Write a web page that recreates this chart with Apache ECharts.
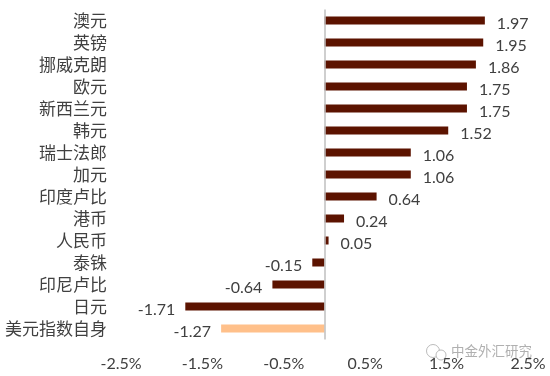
<!DOCTYPE html>
<html>
<head>
<meta charset="utf-8">
<script src="https://cdn.jsdelivr.net/npm/echarts@6/dist/echarts.min.js"></script>
<style>
  html, body { margin: 0; padding: 0; background: #fff; }
  #chart { width: 550px; height: 376px; }
</style>
</head>
<body>
<div id="chart"></div>
<script>
const currencies = ['澳元','英镑','挪威克朗','欧元','新西兰元','韩元','瑞士法郎','加元','印度卢比','港币','人民币','泰铢','印尼卢比','日元','美元指数自身']
const changes = [1.97,1.95,1.86,1.75,1.75,1.52,1.06,1.06,0.64,0.24,0.05,-0.15,-0.64,-1.71,-1.27]
const tickLabels = [-2.5,-1.5,-0.5,0.5,1.5,2.5]

const textColor = '#404040'
const barColor = '#5c1300'
const dollarColor = '#ffc08a'
const cjkFont = '"Noto Sans CJK SC", sans-serif'
const numFont = 'Lato, "Open Sans", sans-serif'

const barData = changes.map((v, i) => ({
  value: v,
  itemStyle: { color: currencies[i] === '美元指数自身' ? dollarColor : barColor },
  label: {
    position: v < 0 ? 'left' : 'right',
    offset: v < 0 ? [-5, 3] : [7, 3]
  }
}))

const chart = echarts.init(document.getElementById('chart'))
chart.setOption({
  animation: false,
  grid: { left: 121, width: 407, top: 9.5, height: 330 },
  xAxis: {
    type: 'value',
    min: -2.5,
    max: 2.5,
    interval: 0.5,
    axisLine: { show: false },
    axisTick: { show: false },
    splitLine: { show: false },
    axisLabel: {
      customValues: tickLabels,
      formatter: v => v.toFixed(1) + '%',
      color: textColor,
      fontFamily: numFont,
      fontSize: 16,
      margin: 16,
      hideOverlap: false
    }
  },
  yAxis: {
    type: 'category',
    inverse: true,
    data: currencies,
    axisLine: { show: false },
    axisTick: { show: false },
    axisLabel: {
      color: textColor,
      fontFamily: cjkFont,
      fontSize: 17,
      margin: 14,
      interval: 0
    }
  },
  graphic: [
    {
      type: 'text',
      left: 451,
      top: 344,
      z: 10,
      style: {
        text: '中金外汇研究',
        fill: 'rgba(150,150,150,0.75)',
        font: '13.5px "Noto Sans CJK SC", sans-serif'
      }
    },
    {
      // 水印的微信图标
      type: 'group',
      left: 424,
      top: 342,
      z: 10,
      children: [
        {
          type: 'circle',
          shape: { cx: 8, cy: 7, r: 6.5 },
          style: { fill: 'none', stroke: 'rgba(170,170,170,0.8)', lineWidth: 1 }
        },
        {
          type: 'circle',
          shape: { cx: 16, cy: 11, r: 5 },
          style: { fill: '#fff', stroke: 'rgba(170,170,170,0.8)', lineWidth: 1 }
        }
      ]
    }
  ],
  series: [
    {
      type: 'bar',
      data: barData,
      barWidth: 8,
      label: {
        show: true,
        color: textColor,
        fontFamily: numFont,
        fontSize: 16
      },
      markLine: {
        silent: true,
        symbol: 'none',
        label: { show: false },
        lineStyle: { color: '#bfbfbf', width: 1.5, type: 'solid' },
        data: [{ xAxis: 0 }]
      }
    }
  ]
})
</script>
</body>
</html>
